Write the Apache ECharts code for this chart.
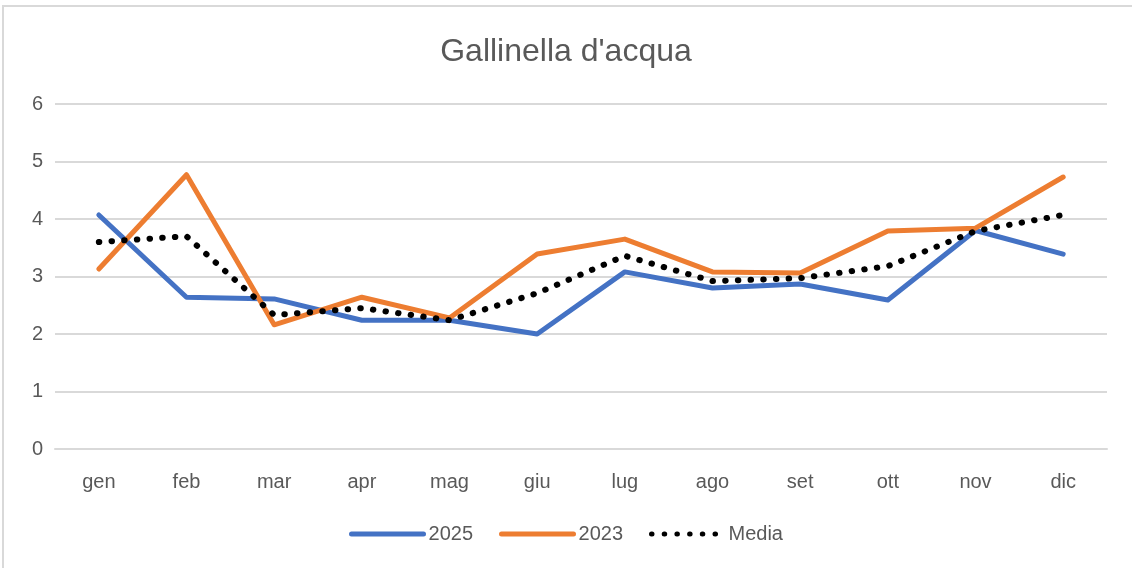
<!DOCTYPE html>
<html>
<head>
<meta charset="utf-8">
<script src="https://cdn.jsdelivr.net/npm/echarts@6/dist/echarts.min.js"></script>
<style>
  html, body { margin: 0; padding: 0; background: #fff; }
  #frame {
    position: absolute; left: 2px; top: 5px; width: 1130px; height: 563px;
    border-top: 2px solid #d9d9d9; border-left: 2px solid #d9d9d9;
    box-sizing: border-box;
  }
  #chart { position: absolute; left: 0; top: 0; width: 1132px; height: 568px; }
</style>
</head>
<body>
<div id="frame"></div>
<div id="chart"></div>
<script>
const mesi = ['gen', 'feb', 'mar', 'apr', 'mag', 'giu', 'lug', 'ago', 'set', 'ott', 'nov', 'dic'];
const anno2025 = [4.07, 2.64, 2.61, 2.24, 2.24, 2.0, 3.08, 2.8, 2.87, 2.59, 3.8, 3.39];
const anno2023 = [3.13, 4.77, 2.16, 2.64, 2.28, 3.39, 3.65, 3.08, 3.06, 3.79, 3.84, 4.73];
const media = [3.6, 3.7, 2.33, 2.45, 2.24, 2.71, 3.36, 2.92, 2.97, 3.18, 3.79, 4.07];

const chart = echarts.init(document.getElementById('chart'));
const testo = '#595959';
const font = 'Liberation Sans, Open Sans, sans-serif';

chart.setOption({
  animation: false,
  title: {
    text: "Gallinella d'acqua",
    left: 'center',
    top: 31,
    textStyle: { color: testo, fontSize: 32, fontWeight: 'normal', fontFamily: font }
  },
  legend: {
    bottom: 19,
    itemWidth: 72,
    itemHeight: 12,
    itemGap: 26,
    itemStyle: { opacity: 0 },
    lineStyle: { width: 5 },
    textStyle: { color: testo, fontSize: 20, fontFamily: font },
    data: ['2025', '2023', 'Media']
  },
  grid: { left: 55, right: 25, top: 104, bottom: 119 },
  xAxis: {
    type: 'category',
    data: mesi,
    boundaryGap: true,
    axisLine: { lineStyle: { color: '#d9d9d9', width: 2 } },
    axisTick: { show: false },
    axisLabel: { color: testo, fontSize: 20, fontFamily: font, margin: 23 }
  },
  yAxis: {
    type: 'value',
    min: 0,
    max: 6,
    interval: 1,
    axisLine: { show: false },
    axisTick: { show: false },
    axisLabel: { color: testo, fontSize: 20, fontFamily: font, margin: 12 },
    splitLine: { lineStyle: { color: '#d9d9d9', width: 2 } }
  },
  series: [
    {
      name: '2025',
      type: 'line',
      data: anno2025,
      symbol: 'none',
      itemStyle: { color: '#4472c4' },
      lineStyle: { color: '#4472c4', width: 5, cap: 'round', join: 'round' }
    },
    {
      name: '2023',
      type: 'line',
      data: anno2023,
      symbol: 'none',
      itemStyle: { color: '#ed7d31' },
      lineStyle: { color: '#ed7d31', width: 5, cap: 'round', join: 'round' }
    },
    {
      name: 'Media',
      type: 'line',
      data: media,
      symbol: 'none',
      itemStyle: { color: '#000' },
      lineStyle: { color: '#000', width: 6, type: [0.5, 12.2], cap: 'round', join: 'round' }
    }
  ]
});
</script>
</body>
</html>
